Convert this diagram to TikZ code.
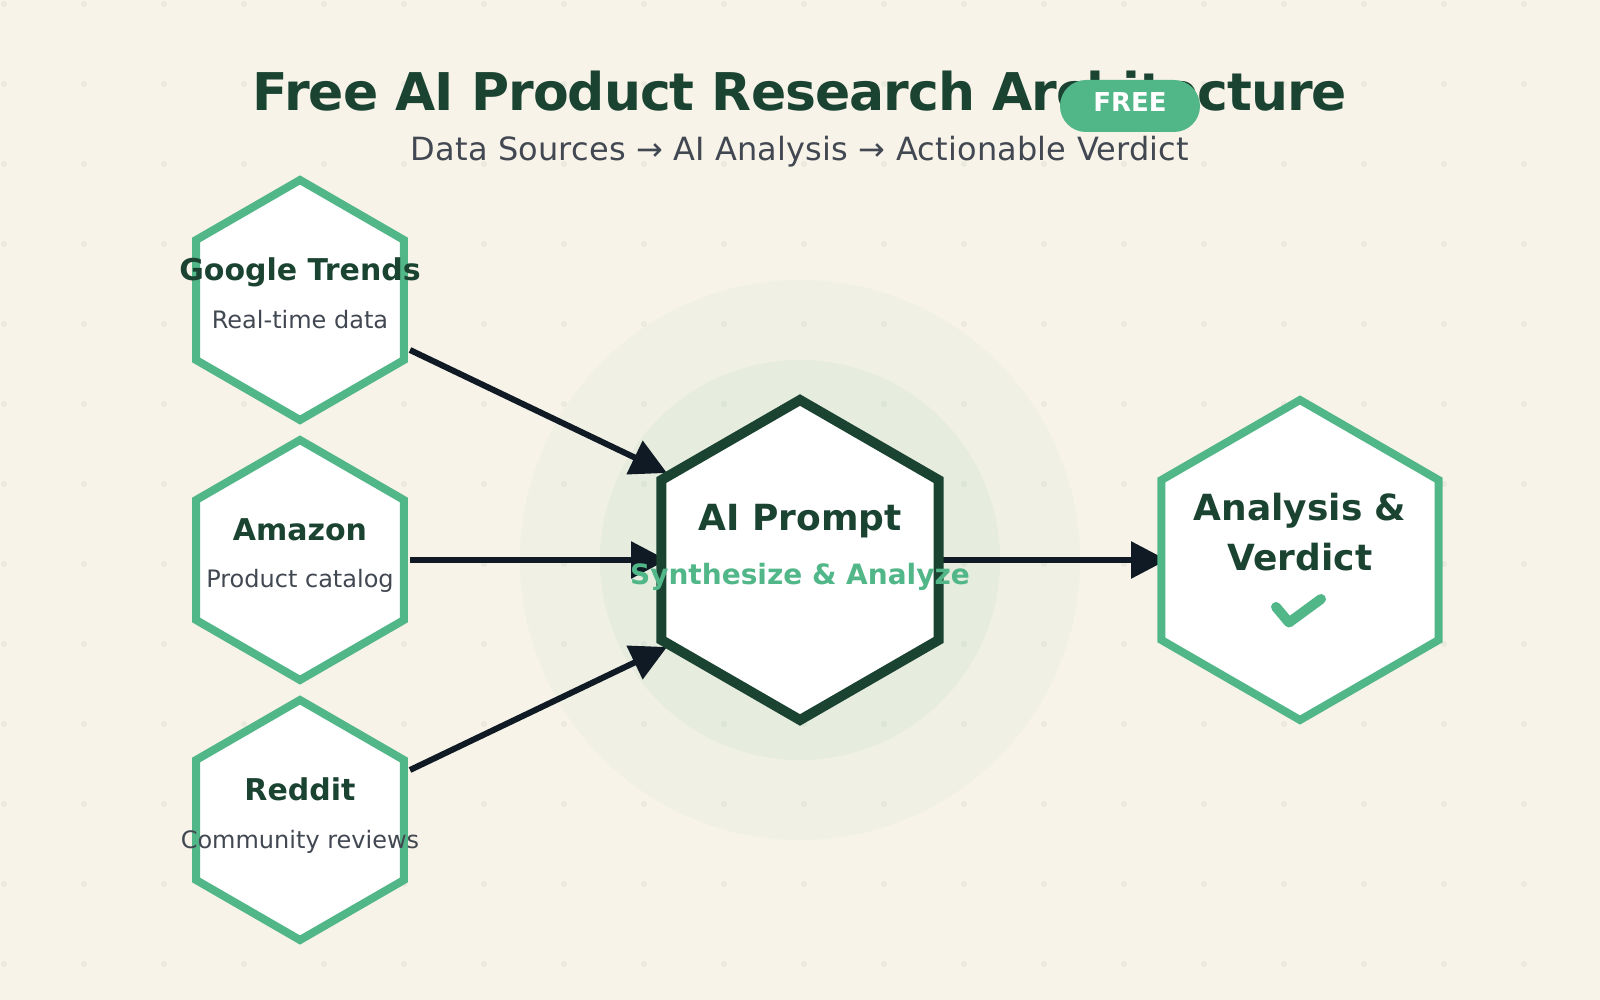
\documentclass[tikz,border=0pt]{standalone}
\usepackage{fontspec}
\setmainfont{DejaVu Sans}
\usetikzlibrary{shapes.geometric,arrows.meta}
\pgfdeclarelayer{under}
\pgfsetlayers{under,main}
\definecolor{bgc}{HTML}{F7F3E8}
\definecolor{forest}{HTML}{1B4332}
\definecolor{mint}{HTML}{52B788}
\definecolor{slate}{HTML}{424852}
\definecolor{ink}{HTML}{0F1A24}
\tikzset{
  hexa/.style={regular polygon,regular polygon sides=6,shape border rotate=30,fill=white,draw=mint,line width=8pt,inner sep=0pt,outer sep=0pt,line join=miter},
  hexsmall/.style={hexa,minimum size=240pt},
  hexbig/.style={hexa,minimum size=320pt},
  conn/.style={draw=ink,line width=6pt,-{Triangle[length=36pt,width=36pt]}},
  txt/.style={anchor=base,inner sep=0pt,outer sep=0pt},
  srcname/.style={txt,font=\fontsize{30}{30}\selectfont\bfseries,text=forest},
  srcsub/.style={txt,font=\fontsize{24}{24}\selectfont,text=slate},
  bigname/.style={txt,font=\fontsize{36}{36}\selectfont\bfseries,text=forest},
  glow/.style={circle,fill=mint,inner sep=0pt,outer sep=0pt},
}
\begin{document}
\begin{tikzpicture}[x=1pt,y=-1pt]
\useasboundingbox (0,0) rectangle (1600,1000);
% hexagons
\node[hexsmall] (google) at (300,300) {};
\node[hexsmall] (amazon) at (300,560) {};
\node[hexsmall] (reddit) at (300,820) {};
\node[hexbig,draw=forest,line width=10pt] (prompt) at (800,560) {};
\node[hexbig] (verdict) at (1300,560) {};
% under layer
\begin{pgfonlayer}{under}
\fill[bgc] (0,0) rectangle (1600,1000);
\foreach \i in {0,...,19}{\foreach \j in {0,...,12}{
  \fill[forest,opacity=0.05] ({4+80*\i},{4+80*\j}) circle[radius=3pt];
}}
\node[glow,fill opacity=0.04,minimum size=560pt] (glowouter) at (prompt.center) {};
\node[glow,fill opacity=0.06,minimum size=400pt] (glowinner) at (prompt.center) {};
\draw[conn] ([shift={(110,50)}]google.center) -- ([shift={(-133,-87)}]prompt.center);
\draw[conn] ([shift={(110,0)}]amazon.center) -- ([shift={(-133,0)}]prompt.center);
\draw[conn] ([shift={(110,-50)}]reddit.center) -- ([shift={(-133,87)}]prompt.center);
\draw[conn] ([shift={(140,0)}]prompt.center) -- ([shift={(-133,0)}]verdict.center);
\end{pgfonlayer}
% title
\node[txt,font=\fontsize{52}{52}\selectfont\bfseries\addfontfeature{LetterSpace=-1.85},text=forest] (title) at (800,111) {Free AI Product Research Architecture};
\node[txt,font=\fontsize{32}{32}\selectfont\addfontfeature{LetterSpace=0.6},text=slate] (subtitle) at (800,161) {Data Sources → AI Analysis → Actionable Verdict};
\node[fill=mint,rounded corners=26pt,minimum width=140pt,minimum height=52pt,inner sep=0pt,outer sep=0pt] (pill) at (1130,106) {};
\node[txt,font=\fontsize{26}{26}\selectfont\bfseries,text=white] (free) at (1130,112) {FREE};
% labels
\node[srcname] (g1) at (300,280) {Google Trends};
\node[srcsub] (g2) at (300,328) {Real-time data};
\node[srcname] (a1) at (300,540) {Amazon};
\node[srcsub] (a2) at (300,587) {Product catalog};
\node[srcname] (r1) at (300,800) {Reddit};
\node[srcsub] (r2) at (300,848) {Community reviews};
\node[bigname] (p1) at (800,530) {AI Prompt};
\node[txt,font=\fontsize{28}{28}\selectfont\bfseries,text=mint] (p2) at (800,584) {Synthesize \& Analyze};
\node[bigname] (v1) at (1300,520) {Analysis \&};
\node[bigname] (v2) at (1300,570) {Verdict};
\draw[mint,line width=10pt,line cap=round,line join=round] ([shift={(-24,47)}]verdict.center) -- ([shift={(-11,62.5)}]verdict.center) -- ([shift={(21,39)}]verdict.center);
\end{tikzpicture}
\end{document}
